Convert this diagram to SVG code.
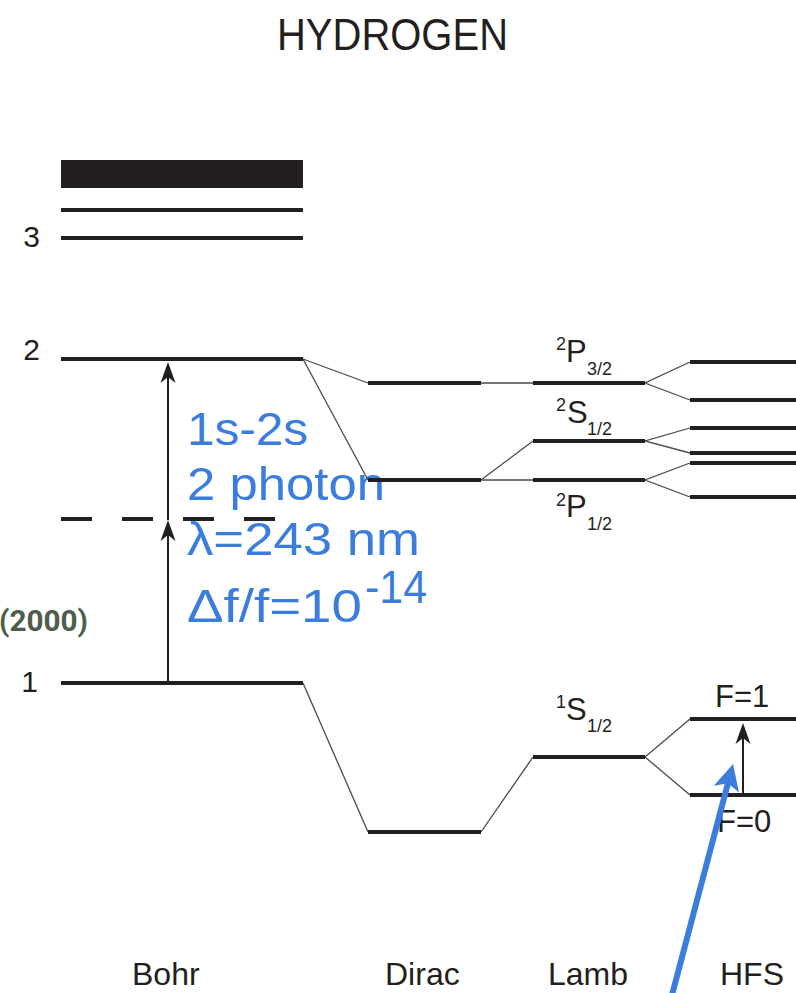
<svg xmlns="http://www.w3.org/2000/svg" width="796" height="993" viewBox="0 0 796 993">
<style>
.lvl{stroke:#231f20;stroke-width:4;fill:none}
.thin{stroke:#4a4a4a;stroke-width:1.3;fill:none}
.lbl{font-family:"Liberation Sans",Arial,sans-serif;fill:#231f20}
.big{font-size:32px}
.num{font-size:30px}
.term{font-size:31px}
.small{font-size:18px}
.blue{font-family:"Liberation Sans",Arial,sans-serif;fill:#3b7ddd;font-size:46px}
.arr{stroke:#231f20;stroke-width:2;fill:none}
</style>
<defs>
<marker id="ah" markerUnits="userSpaceOnUse" orient="auto" refX="0" refY="0" markerWidth="40" markerHeight="40" viewBox="-20 -20 40 40" overflow="visible">
<path d="M6,0 L-15,-7.5 L-9,0 L-15,7.5 Z" fill="#231f20"/>
</marker>
<marker id="bh" markerUnits="userSpaceOnUse" orient="auto" refX="0" refY="0" markerWidth="60" markerHeight="60" viewBox="-30 -30 60 60" overflow="visible">
<path d="M8,0 L-18,-13 L-12,0 L-18,13 Z" fill="#3b7ddd"/>
</marker>
</defs>
<rect width="796" height="993" fill="#ffffff"/>
<text id="title" class="lbl" x="392.5" y="50" font-size="44" text-anchor="middle" textLength="231" lengthAdjust="spacingAndGlyphs">HYDROGEN</text>
<g id="transition-label">
<text class="blue" x="187" y="445" textLength="121" lengthAdjust="spacingAndGlyphs">1s-2s</text>
<text class="blue" x="187" y="500" textLength="198" lengthAdjust="spacingAndGlyphs">2 photon</text>
<text class="blue" x="187" y="555" textLength="233" lengthAdjust="spacingAndGlyphs">λ=243 nm</text>
<text class="blue" x="187" y="622" textLength="175" lengthAdjust="spacingAndGlyphs">Δf/f=10</text>
<text class="blue" x="365" y="603" font-size="36" textLength="62" lengthAdjust="spacingAndGlyphs">-14</text>
</g>
<text id="year" x="-1" y="631" font-family="Roboto,'Liberation Sans',sans-serif" font-weight="bold" font-size="29" fill="#4d5e4b" textLength="89" lengthAdjust="spacingAndGlyphs">(2000)</text>
<g id="connectors">
<line class="thin" x1="303" y1="359" x2="368" y2="383"/>
<line class="thin" x1="303" y1="359" x2="368" y2="480"/>
<line class="thin" x1="303" y1="683" x2="368" y2="832"/>
<line class="thin" x1="481" y1="383" x2="533" y2="383"/>
<line class="thin" x1="481" y1="480" x2="533" y2="441"/>
<line class="thin" x1="481" y1="480" x2="533" y2="480"/>
<line class="thin" x1="481" y1="832" x2="533" y2="757"/>
<polyline class="thin" points="690,362 645,383 690,400"/>
<polyline class="thin" points="690,428 645,441 690,453"/>
<polyline class="thin" points="690,463 645,480 690,497"/>
<polyline class="thin" points="690,719 645,757 690,795"/>
<line class="arr" x1="168" y1="683" x2="168" y2="526" marker-end="url(#ah)"/>
<line class="arr" x1="168" y1="520" x2="168" y2="368" marker-end="url(#ah)"/>
<line class="arr" x1="743" y1="795" x2="743" y2="729" marker-end="url(#ah)"/>
</g>
<g id="bohr">
<rect x="61" y="160" width="242" height="28" fill="#231f20"/>
<line class="lvl" x1="61" y1="210" x2="303" y2="210"/>
<line class="lvl" x1="61" y1="238" x2="303" y2="238"/>
<line class="lvl" x1="61" y1="359" x2="303" y2="359"/>
<line class="lvl" x1="61" y1="519" x2="276" y2="519" stroke-dasharray="31 30"/>
<line class="lvl" x1="61" y1="683" x2="303" y2="683"/>
<text class="lbl num" x="40" y="247" text-anchor="end">3</text>
<text class="lbl num" x="40" y="360" text-anchor="end">2</text>
<text class="lbl num" x="38" y="692" text-anchor="end">1</text>
<text class="lbl big" x="132" y="985">Bohr</text>
</g>
<g id="dirac">
<line class="lvl" x1="368" y1="383" x2="481" y2="383"/>
<line class="lvl" x1="368" y1="480" x2="481" y2="480"/>
<line class="lvl" x1="368" y1="832" x2="481" y2="832"/>
<text class="lbl big" x="385" y="985">Dirac</text>
</g>
<g id="lamb">
<line class="lvl" x1="533" y1="383" x2="645" y2="383"/>
<line class="lvl" x1="533" y1="441" x2="645" y2="441"/>
<line class="lvl" x1="533" y1="480" x2="645" y2="480"/>
<line class="lvl" x1="533" y1="757" x2="645" y2="757"/>
<text class="lbl small" x="556" y="350">2</text>
<text class="lbl term" x="566" y="362">P</text>
<text class="lbl small" x="587" y="375">3/2</text>
<text class="lbl small" x="556" y="411">2</text>
<text class="lbl term" x="567" y="423">S</text>
<text class="lbl small" x="587" y="435">1/2</text>
<text class="lbl small" x="556" y="506">2</text>
<text class="lbl term" x="566" y="517">P</text>
<text class="lbl small" x="587" y="530">1/2</text>
<text class="lbl small" x="556" y="708">1</text>
<text class="lbl term" x="566" y="720">S</text>
<text class="lbl small" x="587" y="732">1/2</text>
<text class="lbl big" x="548" y="985">Lamb</text>
</g>
<g id="hfs">
<line class="lvl" x1="690" y1="362" x2="796" y2="362"/>
<line class="lvl" x1="690" y1="400" x2="796" y2="400"/>
<line class="lvl" x1="690" y1="428" x2="796" y2="428"/>
<line class="lvl" x1="690" y1="453" x2="796" y2="453"/>
<line class="lvl" x1="690" y1="463" x2="796" y2="463"/>
<line class="lvl" x1="690" y1="497" x2="796" y2="497"/>
<line class="lvl" x1="690" y1="719" x2="796" y2="719"/>
<line class="lvl" x1="690" y1="795" x2="796" y2="795"/>
<text class="lbl term" x="715" y="707">F=1</text>
<text class="lbl term" x="717" y="832">F=0</text>
<text class="lbl big" x="720" y="985">HFS</text>
</g>
<g id="pointer">
<line x1="672" y1="995" x2="731" y2="771.7" stroke="#3b7ddd" stroke-width="6" marker-end="url(#bh)"/>
</g>
</svg>
